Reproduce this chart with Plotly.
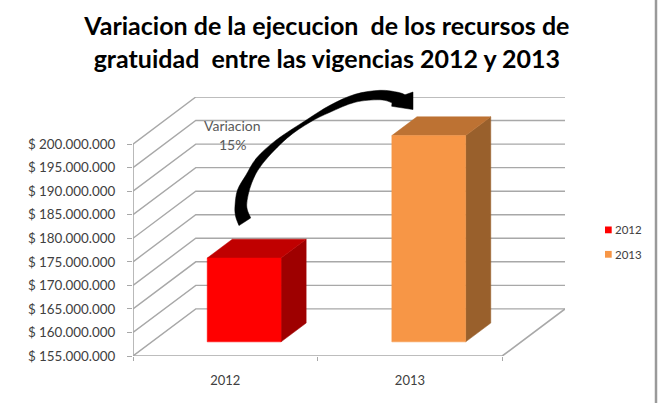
import plotly.graph_objects as go

# Chart data
categories = ["2012", "2013"]
values = [172800000, 198800000]
tick_values = [155000000 + 5000000 * i for i in range(10)]
tick_labels = ["$ 155.000.000", "$ 160.000.000", "$ 165.000.000", "$ 170.000.000", "$ 175.000.000",
               "$ 180.000.000", "$ 185.000.000", "$ 190.000.000", "$ 195.000.000", "$ 200.000.000"]
front_colors = ["#ff0000", "#f79646"]
top_colors = ["#c00000", "#bd7233"]
side_colors = ["#9e0000", "#99602c"]

title_text = "Variacion de la ejecucion  de los recursos de<br>gratuidad  entre las vigencias 2012 y 2013"
note_lines = ["Variacion", "15%"]

# Oblique projection of the 3D box: depth 0 is the front, depth 1 the back wall
Y_MIN = 155000000
Y_TOP = 200000000
DEPTH_X = 0.34
DEPTH_Y = 10000000
BAR_WIDTH = 0.4
BAR_DEPTH = (0.3, 0.7)
GRID = "#a8a8a8"
TEXT = "#404040"

# Canvas layout in pixels
W, H = 659, 403
LEFT, RIGHT, TOP, BOTTOM = 133, 565, 96.7, 356.5


def proj(x, value, depth):
    return x + DEPTH_X * depth, value + DEPTH_Y * depth


def poly(corners):
    xs, ys = zip(*[proj(*c) for c in corners])
    return list(xs) + [xs[0]], list(ys) + [ys[0]]


def to_paper(px, py):
    return (px - LEFT) / (W - LEFT), (BOTTOM - py) / (BOTTOM - TOP)


fig = go.Figure()


def add_lines(segments, color=GRID, width=1.4):
    xs, ys = [], []
    for seg in segments:
        for c in seg:
            px, py = proj(*c)
            xs.append(px)
            ys.append(py)
        xs.append(None)
        ys.append(None)
    fig.add_trace(go.Scatter(x=xs, y=ys, mode="lines", line=dict(color=color, width=width),
                             showlegend=False, hoverinfo="skip"))


# Side wall and back wall gridlines
add_lines([[(0, v, 0), (0, v, 1), (2, v, 1)] for v in tick_values])
# Floor and front axes
add_lines([[(2, Y_MIN, 1), (2, Y_MIN, 0), (0, Y_MIN, 0), (0, Y_TOP, 0)]], width=1.6)

# Boxes: front, top and side faces
for i, (name, val) in enumerate(zip(categories, values)):
    x0 = i + 0.5 - BAR_WIDTH / 2
    x1 = i + 0.5 + BAR_WIDTH / 2
    d0, d1 = BAR_DEPTH
    faces = [
        ([(x1, Y_MIN, d0), (x1, Y_MIN, d1), (x1, val, d1), (x1, val, d0)], side_colors[i]),
        ([(x0, val, d0), (x1, val, d0), (x1, val, d1), (x0, val, d1)], top_colors[i]),
        ([(x0, Y_MIN, d0), (x1, Y_MIN, d0), (x1, val, d0), (x0, val, d0)], front_colors[i]),
    ]
    for corners, color in faces:
        xs, ys = poly(corners)
        fig.add_trace(go.Scatter(x=xs, y=ys, mode="lines", fill="toself", fillcolor=color,
                                 line=dict(color=color, width=0.5),
                                 showlegend=False, hoverinfo="skip"))


def smooth(points):
    """Catmull-Rom run through the points, returned as SVG cubic segments."""
    out = []
    n = len(points)
    for k in range(n - 1):
        p0 = points[max(k - 1, 0)]
        p1 = points[k]
        p2 = points[k + 1]
        p3 = points[min(k + 2, n - 1)]
        c1 = (p1[0] + (p2[0] - p0[0]) / 6, p1[1] + (p2[1] - p0[1]) / 6)
        c2 = (p2[0] - (p3[0] - p1[0]) / 6, p2[1] - (p3[1] - p1[1]) / 6)
        a, b, c = to_paper(*c1), to_paper(*c2), to_paper(*p2)
        out.append(f"C {a[0]:.5f},{a[1]:.5f} {b[0]:.5f},{b[1]:.5f} {c[0]:.5f},{c[1]:.5f}")
    return " ".join(out)


def line_to(point):
    p = to_paper(*point)
    return f"L {p[0]:.5f},{p[1]:.5f}"


# Curved arrow between the two bars: outer edge, head, inner edge
outer_edge = [(239, 225.7), (235.5, 216), (235, 206), (237.5, 190), (246, 175), (256.5, 158), (276, 140),
              (306, 120), (330, 105), (355, 94), (380, 90), (398, 92), (405, 94.5)]
head = [(413, 91.7), (413, 109.3), (391.7, 106), (392, 102.5)]
inner_edge = [(392, 102.5), (380, 99.5), (355, 102), (330, 112), (310, 122), (287, 138), (263, 163),
              (251.7, 183), (246.7, 205), (250.7, 218)]
start = to_paper(*outer_edge[0])
arrow_path = (f"M {start[0]:.5f},{start[1]:.5f} " + smooth(outer_edge) + " "
              + " ".join(line_to(p) for p in head) + " " + smooth(inner_edge) + " Z")
fig.add_shape(type="path", path=arrow_path, xref="paper", yref="paper", fillcolor="black",
              line=dict(color="black", width=0.5), layer="above")

# Right edge of the frame
frame_x = to_paper(656, 0)[0]
fig.add_shape(type="line", xref="paper", yref="paper", x0=frame_x, x1=frame_x, y0=-1, y1=2,
              line=dict(color="#9a9a9a", width=2.5), layer="above")

# Note beside the arrow
for line, py in zip(note_lines, (125, 144.5)):
    nx, ny = to_paper(232, py)
    fig.add_annotation(x=nx, y=ny, xref="paper", yref="paper", text=line, showarrow=False,
                       xanchor="center", yanchor="middle",
                       font=dict(family="Lato", size=14, color="#595959"))

# Legend: colour swatch and year
for name, color, py in zip(categories, front_colors, (230, 254.5)):
    sx0, sy0 = to_paper(605, py - 3.4)
    sx1, sy1 = to_paper(611.7, py + 3.4)
    fig.add_shape(type="rect", xref="paper", yref="paper", x0=sx0, x1=sx1, y0=sy0, y1=sy1,
                  fillcolor=color, line=dict(width=0), layer="above")
    tx, ty = to_paper(615, py)
    fig.add_annotation(x=tx, y=ty, xref="paper", yref="paper", text=name, showarrow=False,
                       xanchor="left", yanchor="middle", xshift=-2,
                       font=dict(family="Lato", size=11.5, color=TEXT))

fig.update_layout(
    width=W, height=H, autosize=False,
    margin=dict(l=LEFT, r=0, t=TOP, b=H - BOTTOM, autoexpand=False),
    paper_bgcolor="white", plot_bgcolor="white", showlegend=False,
    title=dict(text=title_text, x=0.496, xanchor="center", y=0.913, yanchor="top",
               font=dict(family="Lato", size=25, color="black", weight="bold")),
    hovermode=False,
)
fig.update_xaxes(domain=[0, (RIGHT - LEFT) / (W - LEFT)], range=[0, 2 + DEPTH_X],
                 tickvals=[0.5, 1.5], ticktext=categories, ticks="",
                 showgrid=False, zeroline=False, showline=False, ticklabelstandoff=15,
                 tickfont=dict(family="Lato", size=13, color=TEXT),
                 minor=dict(tickvals=[0, 1, 2], ticks="outside", ticklen=4, tickcolor=GRID, tickwidth=1.4))
fig.update_yaxes(range=[Y_MIN, Y_TOP + DEPTH_Y], tickvals=tick_values, ticktext=tick_labels,
                 ticks="outside", ticklen=5, tickcolor=GRID, tickwidth=1.4, ticklabelstandoff=9,
                 showgrid=False, zeroline=False, showline=False,
                 tickfont=dict(family="Lato", size=13.4, color=TEXT))

fig.write_html("out.html")
